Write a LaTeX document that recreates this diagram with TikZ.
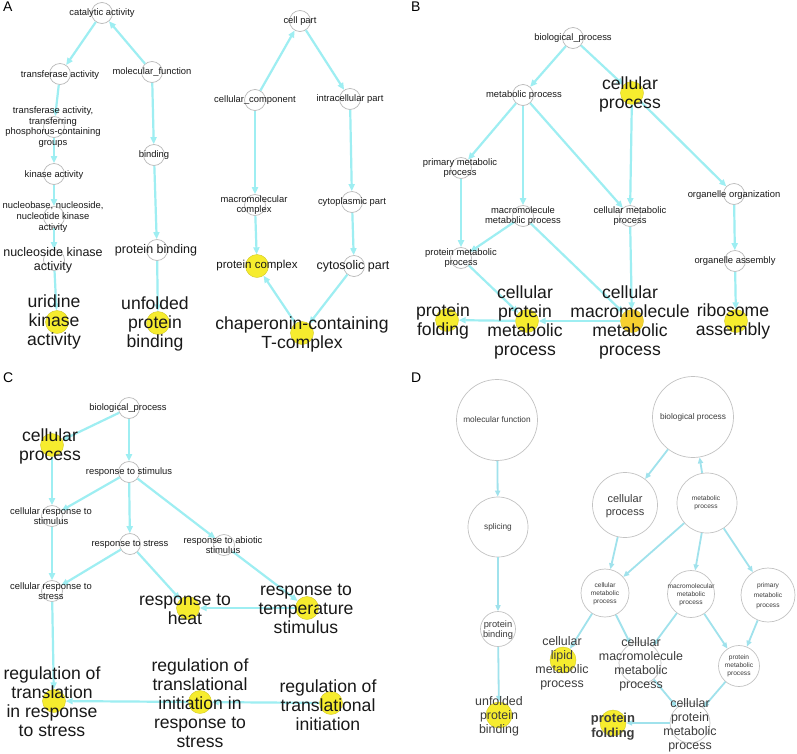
\documentclass[tikz,border=0pt]{standalone}
\usepackage{fontspec}
\setmainfont{Liberation Sans}
\usetikzlibrary{arrows.meta}
\definecolor{edgec}{RGB}{158,238,242}
\definecolor{edged}{RGB}{160,226,236}
\definecolor{yel}{RGB}{246,236,46}
\definecolor{yelo}{RGB}{246,208,48}
\definecolor{ringc}{RGB}{185,185,185}
\definecolor{txt}{RGB}{25,25,25}
\definecolor{txtd}{RGB}{60,60,60}
\newcommand{\fsm}{\fontsize{9.4}{10.6}\selectfont}
\newcommand{\fmd}{\fontsize{12.5}{14}\selectfont}
\newcommand{\flg}{\fontsize{17.6}{19}\selectfont}
\newcommand{\fpl}{\fontsize{14}{14}\selectfont}
\newcommand{\fdt}{\fontsize{6.6}{8.2}\selectfont}
\newcommand{\fds}{\fontsize{8.3}{10}\selectfont}
\newcommand{\fdm}{\fontsize{12.4}{14}\selectfont}
\begin{document}
\begin{tikzpicture}[x=1pt,y=-1pt,
 hc/.style={circle,draw=ringc,line width=0.7pt,minimum size=21pt,inner sep=0pt},
 yc/.style={circle,fill=yel,draw=yel!85!black,line width=0.4pt,minimum size=23pt,inner sep=0pt},
 ycd/.style={yc,minimum size=26pt},
 dc/.style={circle,draw=ringc!85,line width=0.7pt,inner sep=0pt},
 ed/.style={draw=edgec,line width=2.2pt,-{Triangle[length=7pt,width=6pt]}},
 edd/.style={draw=edged,line width=1.8pt,-{Triangle[length=6pt,width=5pt]}},
 lb/.style={align=center,inner sep=0pt,text=txt},
 lbd/.style={align=center,inner sep=0pt,text=txtd},
 pl/.style={anchor=north west,inner sep=0pt,font=\fpl,text=black}]
\fill[white] (0,0) rectangle (797,753);
\useasboundingbox (0,0) rectangle (797,753);

% ---------------- Panel A ----------------
\node[pl] (pA) at (3,2) {A};
\node[hc] (catal) at (102,13) {};
\node[hc] (transf) at (60,74) {};
\node[hc] (molfun) at (152,72) {};
\node[hc] (transfp) at (54,127) {};
\node[hc] (kinase) at (54,174) {};
\node[hc] (bind) at (154,155) {};
\node[hc] (nucleob) at (54,217) {};
\node[hc] (nucleos) at (54,260) {};
\node[hc] (protb) at (157,250) {};
\node[yc] (uridine) at (57,322) {};
\node[yc] (unfold) at (158,323) {};
\draw[ed] (catal) -- (transf);
\draw[ed] (molfun) -- (catal);
\draw[ed] (transf) -- (transfp);
\draw[ed] (transfp) -- (kinase);
\draw[ed] (kinase) -- (nucleob);
\draw[ed] (nucleob) -- (nucleos);
\draw[ed] (nucleos) -- (uridine);
\draw[ed] (molfun) -- (bind);
\draw[ed] (bind) -- (protb);
\draw[ed] (protb) -- (unfold);

\node[hc] (cellpart) at (300,21) {};
\node[hc] (cellcomp) at (255,100) {};
\node[hc] (intrac) at (350,99) {};
\node[hc] (macroc) at (255,205) {};
\node[hc] (cytopl) at (352,202) {};
\node[yc] (protc) at (257,266) {};
\node[hc] (cytos) at (354,266) {};
\node[yc] (chap) at (302,333) {};
\draw[ed] (cellcomp) -- (cellpart);
\draw[ed] (cellpart) -- (intrac);
\draw[ed] (cellcomp) -- (macroc);
\draw[ed] (intrac) -- (cytopl);
\draw[ed] (macroc) -- (protc);
\draw[ed] (cytopl) -- (cytos);
\draw[ed] (chap) -- (protc);
\draw[ed] (cytos) -- (chap);

\node[lb,font=\fsm] (l-catal) at (102,13) {catalytic activity};
\node[lb,font=\fsm] (l-transf) at (60,75) {transferase activity};
\node[lb,font=\fsm] (l-molfun) at (152,72) {molecular\_function};
\node[lb,font=\fsm] (l-transfp) at (53,127) {transferase activity,\\transferring\\phosphorus-containing\\groups};
\node[lb,font=\fsm] (l-kinase) at (54,175) {kinase activity};
\node[lb,font=\fsm] (l-bind) at (154,155) {binding};
\node[lb,font=\fsm] (l-nucleob) at (53,217) {nucleobase, nucleoside,\\nucleotide kinase\\activity};
\node[lb,font=\fmd] (l-nucleos) at (53,260) {nucleoside kinase\\activity};
\node[lb,font=\fmd] (l-protb) at (156,250) {protein binding};
\node[lb,font=\flg] (l-uridine) at (54,322) {uridine\\kinase\\activity};
\node[lb,font=\flg] (l-unfold) at (155,324) {unfolded\\protein\\binding};
\node[lb,font=\fsm] (l-cellpart) at (300,21) {cell part};
\node[lb,font=\fsm] (l-cellcomp) at (255,100) {cellular\_component};
\node[lb,font=\fsm] (l-intrac) at (350,99) {intracellular part};
\node[lb,font=\fsm] (l-macroc) at (254,205) {macromolecular\\complex};
\node[lb,font=\fsm] (l-cytopl) at (352,202) {cytoplasmic part};
\node[lb,font=\fontsize{11.5}{13}\selectfont] (l-protc) at (257,266) {protein complex};
\node[lb,font=\fmd] (l-cytos) at (353,266) {cytosolic part};
\node[lb,font=\flg] (l-chap) at (302,334) {chaperonin-containing\\T-complex};

% ---------------- Panel B ----------------
\node[pl] (pB) at (411,2) {B};
\node[hc] (bp) at (573,38) {};
\node[hc] (metab) at (523,95) {};
\node[yc] (cellproc) at (632,93) {};
\node[hc] (primary) at (461,168) {};
\node[hc] (macro) at (523,216) {};
\node[hc] (cellmet) at (630,216) {};
\node[hc] (orgorg) at (734,194) {};
\node[hc] (protmet) at (461,258) {};
\node[hc] (orgasm) at (735,261) {};
\node[yc] (protfold) at (447,320) {};
\node[yc] (cellprot) at (527,321) {};
\node[yc,fill=yelo] (cellmacro) at (632,321) {};
\node[yc] (ribo) at (736,321) {};
\draw[ed] (bp) -- (metab);
\draw[ed] (bp) -- (cellproc);
\draw[ed] (metab) -- (primary);
\draw[ed] (metab) -- (macro);
\draw[ed] (metab) -- (cellmet);
\draw[ed] (cellproc) -- (cellmet);
\draw[ed] (cellproc) -- (orgorg);
\draw[ed] (primary) -- (protmet);
\draw[ed] (macro) -- (protmet);
\draw[ed] (orgorg) -- (orgasm);
\draw[ed] (orgasm) -- (ribo);
\draw[ed] (protmet) -- (cellprot);
\draw[ed] (macro) -- (cellmacro);
\draw[ed] (cellmet) -- (cellmacro);
\draw[ed] (cellmacro) -- (cellprot);
\draw[ed] (cellprot) -- (protfold);
\node[lb,font=\fsm] (l-bp) at (573,38) {biological\_process};
\node[lb,font=\fsm] (l-metab) at (524,95) {metabolic process};
\node[lb,font=\flg] (l-cellproc) at (630,94) {cellular\\process};
\node[lb,font=\fsm] (l-primary) at (460,168) {primary metabolic\\process};
\node[lb,font=\fsm] (l-macro) at (523,216) {macromolecule\\metabolic process};
\node[lb,font=\fsm] (l-cellmet) at (630,216) {cellular metabolic\\process};
\node[lb,font=\fsm] (l-orgorg) at (734,195) {organelle organization};
\node[lb,font=\fsm] (l-protmet) at (461,258) {protein metabolic\\process};
\node[lb,font=\fsm] (l-orgasm) at (735,261) {organelle assembly};
\node[lb,font=\flg] (l-protfold) at (443,321) {protein\\folding};
\node[lb,font=\flg] (l-cellprot) at (525,322) {cellular\\protein\\metabolic\\process};
\node[lb,font=\flg] (l-cellmacro) at (630,322) {cellular\\macromolecule\\metabolic\\process};
\node[lb,font=\flg] (l-ribo) at (733,321) {ribosome\\assembly};

% ---------------- Panel C ----------------
\node[pl] (pC) at (3,373) {C};
\node[hc] (cbp) at (129,408) {};
\node[yc] (ccp) at (52,445) {};
\node[hc] (rstim) at (129,472) {};
\node[hc] (crstim) at (52,516) {};
\node[hc] (rstress) at (130,544) {};
\node[hc] (rabio) at (224,545) {};
\node[hc] (crstress) at (52,591) {};
\node[yc] (heat) at (188,608) {};
\node[yc] (temp) at (307,608) {};
\node[yc] (regtrans) at (54,701) {};
\node[yc] (regtinit) at (200,702) {};
\node[yc] (regti) at (331,703) {};
\draw[ed] (cbp) -- (ccp);
\draw[ed] (cbp) -- (rstim);
\draw[ed] (ccp) -- (crstim);
\draw[ed] (rstim) -- (crstim);
\draw[ed] (rstim) -- (rstress);
\draw[ed] (rstim) -- (rabio);
\draw[ed] (crstim) -- (crstress);
\draw[ed] (rstress) -- (crstress);
\draw[ed] (rstress) -- (heat);
\draw[ed] (rabio) -- (temp);
\draw[ed] (temp) -- (heat);
\draw[ed] (crstress) -- (regtrans);
\draw[ed] (regtinit) -- (regtrans);
\draw[ed] (regti) -- (regtinit);
\node[lb,font=\fsm] (l-cbp) at (128,408) {biological\_process};
\node[lb,font=\flg] (l-ccp) at (50,446) {cellular\\process};
\node[lb,font=\fsm] (l-rstim) at (129,472) {response to stimulus};
\node[lb,font=\fsm] (l-crstim) at (51,516) {cellular response to\\stimulus};
\node[lb,font=\fsm] (l-rstress) at (130,544) {response to stress};
\node[lb,font=\fsm] (l-rabio) at (223,545) {response to abiotic\\stimulus};
\node[lb,font=\fsm] (l-crstress) at (51,591) {cellular response to\\stress};
\node[lb,font=\flg] (l-heat) at (185,609) {response to\\heat};
\node[lb,font=\flg] (l-temp) at (306,609) {response to\\temperature\\stimulus};
\node[lb,font=\flg] (l-regtrans) at (52,702) {regulation of\\translation\\in response\\to stress};
\node[lb,font=\flg] (l-regtinit) at (200,703) {regulation of\\translational\\initiation in\\response to\\stress};
\node[lb,font=\flg] (l-regti) at (328,705) {regulation of\\translational\\initiation};

% ---------------- Panel D ----------------
\node[pl] (pD) at (411,373) {D};
\node[dc,minimum size=81pt] (mf) at (497,420) {};
\node[dc,minimum size=81pt] (dbp) at (693,417) {};
\node[dc,minimum size=60pt] (splic) at (498,527) {};
\node[dc,minimum size=65pt] (dcp) at (625,505) {};
\node[dc,minimum size=60pt] (dmp) at (707,503) {};
\node[dc,minimum size=35pt] (dpb) at (498,629) {};
\node[dc,minimum size=48pt] (dcmp) at (605,593) {};
\node[dc,minimum size=47pt] (dmmp) at (691,594) {};
\node[dc,minimum size=54pt] (dpmp) at (768,595) {};
\node[dc,minimum size=41pt] (dprotmp) at (739,666) {};
\node[ycd] (dlipid) at (563,660) {};
\node[dc,minimum size=42pt] (dcmmp) at (640,663) {};
\node[dc,minimum size=40pt] (dcpmp) at (690,723) {};
\node[ycd] (dpf) at (613,723) {};
\node[ycd] (dupb) at (499,715) {};
\draw[edd] (mf) -- (splic);
\draw[edd] (splic) -- (dpb);
\draw[edd] (dpb) -- (dupb);
\draw[edd] (dbp) -- (dcp);
\draw[edd] (dmp) -- (dbp);
\draw[edd] (dcp) -- (dcmp);
\draw[edd] (dmp) -- (dcmp);
\draw[edd] (dmp) -- (dmmp);
\draw[edd] (dmp) -- (dpmp);
\draw[edd] (dcmp) -- (dlipid);
\draw[edd] (dcmp) -- (dcmmp);
\draw[edd] (dmmp) -- (dcmmp);
\draw[edd] (dmmp) -- (dprotmp);
\draw[edd] (dpmp) -- (dprotmp);
\draw[edd] (dcmmp) -- (dcpmp);
\draw[edd] (dprotmp) -- (dcpmp);
\draw[edd] (dcpmp) -- (dpf);
\node[lbd,font=\fds] (l-mf) at (497,420) {molecular function};
\node[lbd,font=\fds] (l-dbp) at (693,417) {biological process};
\node[lbd,font=\fds] (l-splic) at (498,527) {splicing};
\node[lbd,font=\fontsize{11}{12.5}\selectfont] (l-dcp) at (625,506) {cellular\\process};
\node[lbd,font=\fdt] (l-dmp) at (706,503) {metabolic\\process};
\node[lbd,font=\fontsize{9.3}{10}\selectfont] (l-dpb) at (498,630) {protein\\binding};
\node[lbd,font=\fdt] (l-dcmp) at (605,594) {cellular\\metabolic\\process};
\node[lbd,font=\fdt] (l-dmmp) at (691,595) {macromolecular\\metabolic\\process};
\node[lbd,font=\fontsize{6.6}{10}\selectfont] (l-dpmp) at (768,596) {primary\\metabolic\\process};
\node[lbd,font=\fdt] (l-dprotmp) at (739,666) {protein\\metabolic\\process};
\node[lbd,font=\fdm] (l-dlipid) at (562,663) {cellular\\lipid\\metabolic\\process};
\node[lbd,font=\fdm] (l-dcmmp) at (641,664) {cellular\\macromolecule\\metabolic\\process};
\node[lbd,font=\fdm] (l-dcpmp) at (690,725) {cellular\\protein\\metabolic\\process};
\node[lbd,font=\fontsize{13}{15}\selectfont\bfseries] (l-dpf) at (613,727) {protein\\folding};
\node[lbd,font=\fdm] (l-dupb) at (499,716) {unfolded\\protein\\binding};
\end{tikzpicture}
\end{document}
